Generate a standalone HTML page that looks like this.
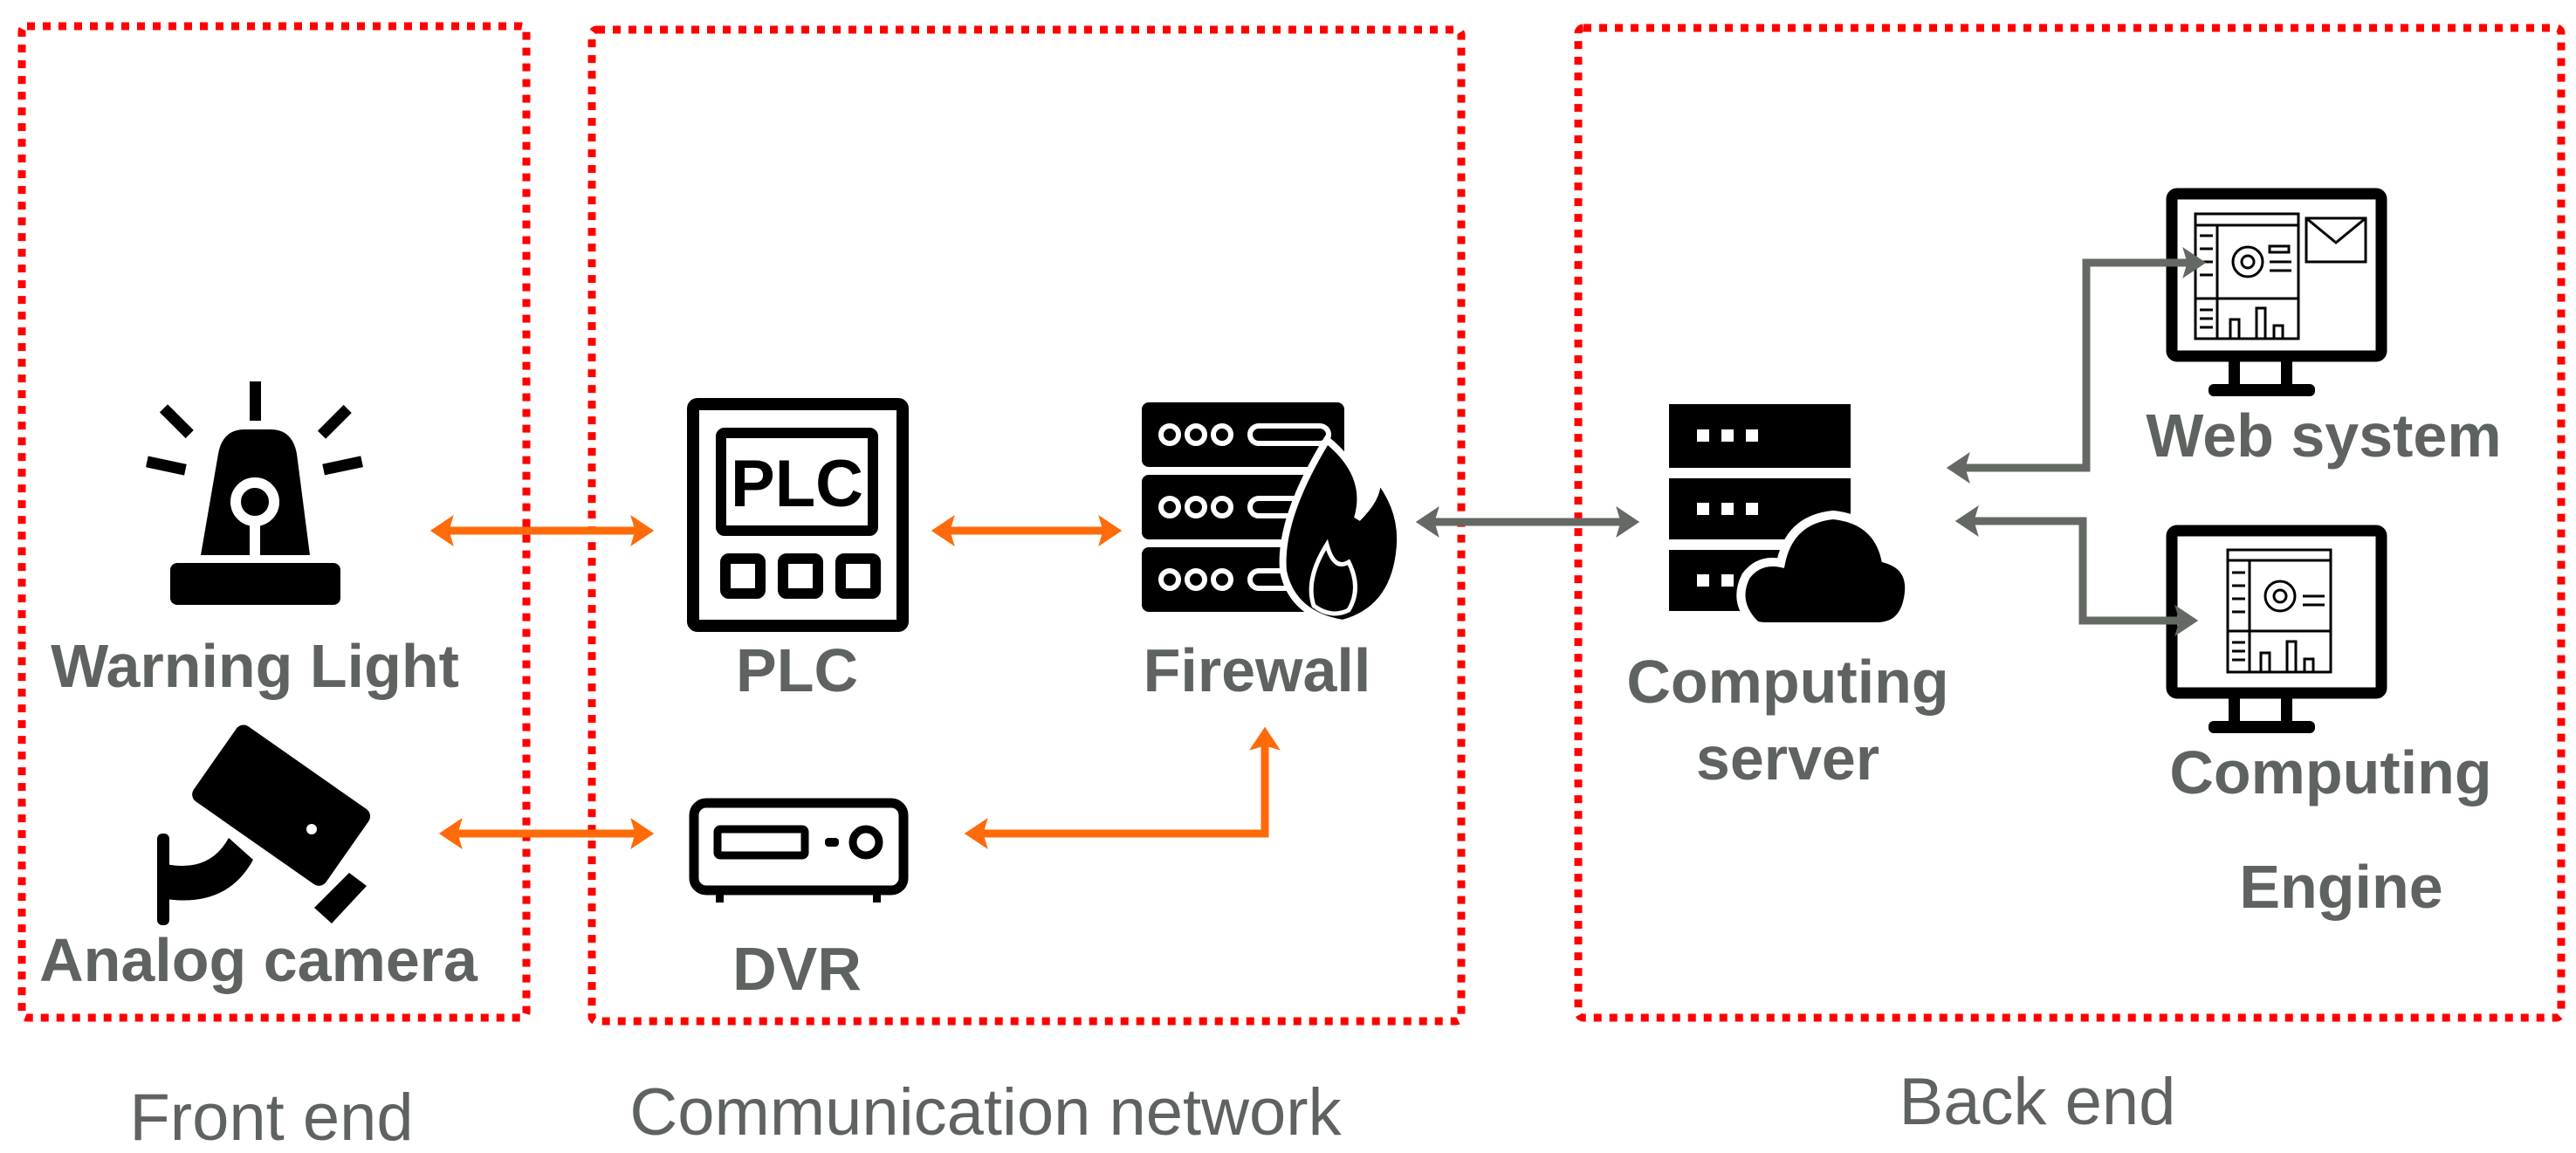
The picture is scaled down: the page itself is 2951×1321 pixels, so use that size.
<!DOCTYPE html>
<html><head><meta charset="utf-8"><style>
html,body{margin:0;padding:0;background:#fff}
svg{display:block}
text{font-family:"Liberation Sans",sans-serif;fill:#5f635f;text-anchor:middle}
.b{font-weight:bold;font-size:70px}
.n{font-size:76px}
</style></head><body>
<svg width="2951" height="1321" viewBox="0 0 2951 1321" xmlns="http://www.w3.org/2000/svg">
<defs>
<marker id="ao" markerWidth="4" markerHeight="4" refX="2.2" refY="2" orient="auto-start-reverse" markerUnits="strokeWidth"><path d="M0,0 L3,2 L0,4 L0.6,2 z" fill="#ff6a0a"/></marker>
<marker id="ag" markerWidth="4" markerHeight="4" refX="2.2" refY="2" orient="auto-start-reverse" markerUnits="strokeWidth"><path d="M0,0 L3,2 L0,4 L0.6,2 z" fill="#646964"/></marker>
</defs>
<g fill="none" stroke="#ff0000" stroke-width="9" stroke-dasharray="9 9">
<rect x="25" y="30" width="578" height="1136" rx="6"/>
<rect x="678" y="34" width="996" height="1136" rx="6"/>
<rect x="1808" y="32" width="1126" height="1134" rx="6"/>
</g>
<!-- warning light -->
<g fill="#000">
<rect x="286" y="437" width="13" height="45"/>
<rect x="196" y="462" width="13" height="42" transform="rotate(-45 202 483)"/>
<rect x="377" y="462" width="13" height="42" transform="rotate(45 383 483)"/>
<rect x="168" y="527" width="45" height="13" transform="rotate(12 190 533)"/>
<rect x="370" y="527" width="45" height="13" transform="rotate(-12 392 533)"/>
<path d="M250 520 Q255 492 280 492 L310 492 Q335 492 340 520 L355 636 L230 636 z"/>
<rect x="195" y="645" width="195" height="48" rx="8"/>
</g>
<circle cx="292" cy="575" r="22" fill="none" stroke="#fff" stroke-width="12"/>
<rect x="286" y="595" width="12" height="41" fill="#fff"/>
<!-- camera -->
<g fill="#000">
<rect x="230" y="870" width="185" height="105" rx="10" transform="rotate(35 322 922)"/>
<rect x="180" y="955" width="14" height="105" rx="6"/>
<path d="M190 990 Q240 1000 262 960 L290 985 Q260 1040 190 1030 z"/>
<path d="M360 1040 L400 1000 L420 1015 L380 1058 z"/>
</g>
<circle cx="357" cy="950" r="6" fill="#fff"/>
<!-- PLC -->
<g transform="translate(0,-60)">
<rect x="794" y="523" width="240" height="254" rx="5" fill="none" stroke="#000" stroke-width="14"/>
<rect x="826" y="556" width="174" height="112" rx="4" fill="none" stroke="#000" stroke-width="12"/>
<text x="913" y="640" style="font-size:76px;font-weight:bold;fill:#000">PLC</text>
<g fill="none" stroke="#000" stroke-width="12"><rect x="831" y="700" width="40" height="40" rx="4"/><rect x="897" y="700" width="40" height="40" rx="4"/><rect x="963" y="700" width="40" height="40" rx="4"/></g>
</g>
<!-- firewall -->
<g transform="translate(0,-56)">
<g fill="#000">
<rect x="1308" y="517" width="232" height="74" rx="8"/>
<rect x="1308" y="600" width="232" height="74" rx="8"/>
<rect x="1308" y="683" width="232" height="74" rx="8"/>
</g>
<g fill="none" stroke="#fff" stroke-width="6">
<circle cx="1340" cy="554" r="10"/><circle cx="1370" cy="554" r="10"/><circle cx="1400" cy="554" r="10"/>
<circle cx="1340" cy="637" r="10"/><circle cx="1370" cy="637" r="10"/><circle cx="1400" cy="637" r="10"/>
<circle cx="1340" cy="720" r="10"/><circle cx="1370" cy="720" r="10"/><circle cx="1400" cy="720" r="10"/>
<rect x="1432" y="544" width="90" height="20" rx="10"/><rect x="1432" y="627" width="90" height="20" rx="10"/><rect x="1432" y="710" width="90" height="20" rx="10"/>
</g>
<path d="M1520 560 Q1570 600 1555 650 Q1585 620 1575 600 Q1610 640 1603 690 Q1595 755 1538 770 Q1480 760 1470 710 Q1465 650 1520 560 z" fill="#000" stroke="#fff" stroke-width="8"/>
<path d="M1520 680 Q1528 710 1545 700 Q1560 730 1545 755 Q1525 765 1505 750 Q1495 720 1520 680 z" fill="none" stroke="#fff" stroke-width="5"/>
</g>
<!-- DVR -->
<rect x="795" y="920" width="240" height="100" rx="14" fill="none" stroke="#000" stroke-width="11"/>
<rect x="822" y="950" width="100" height="30" rx="3" fill="none" stroke="#000" stroke-width="9"/>
<rect x="945" y="960" width="16" height="10" rx="4" fill="#000"/>
<circle cx="992" cy="965" r="15" fill="none" stroke="#000" stroke-width="9"/>
<rect x="820" y="1018" width="9" height="16" fill="#000"/><rect x="1000" y="1018" width="9" height="16" fill="#000"/>
<!-- server -->
<g fill="#000">
<rect x="1912" y="463" width="208" height="73"/>
<rect x="1912" y="548" width="208" height="70"/>
<rect x="1912" y="630" width="208" height="70"/>
</g>
<g fill="#fff">
<rect x="1944" y="492" width="14" height="14"/><rect x="1972" y="492" width="14" height="14"/><rect x="2000" y="492" width="14" height="14"/>
<rect x="1944" y="576" width="14" height="14"/><rect x="1972" y="576" width="14" height="14"/><rect x="2000" y="576" width="14" height="14"/>
<rect x="1944" y="658" width="14" height="14"/><rect x="1972" y="658" width="14" height="14"/><rect x="2000" y="658" width="14" height="14"/>
</g>
<path d="M2010 715 Q1985 690 2000 660 Q2015 640 2040 645 Q2050 595 2100 590 Q2150 595 2160 640 Q2195 650 2185 690 Q2178 718 2150 718 L2025 718 Q2012 718 2010 715 z" fill="#000" stroke="#fff" stroke-width="10"/>
<!-- monitors -->
<rect x="2488" y="222" width="240" height="186" rx="6" fill="none" stroke="#000" stroke-width="13"/>
<rect x="2553" y="408" width="13" height="40" fill="#000"/><rect x="2613" y="408" width="13" height="40" fill="#000"/>
<rect x="2530" y="440" width="122" height="14" rx="6" fill="#000"/>
<g fill="none" stroke="#000" stroke-width="3">
<rect x="2515" y="245" width="118" height="143"/><line x1="2515" y1="258" x2="2633" y2="258"/><line x1="2540" y1="258" x2="2540" y2="388"/><line x1="2515" y1="342" x2="2633" y2="342"/>
<path d="M2520 270h15M2520 285h15M2520 300h15M2520 315h15M2520 355h15M2520 365h15M2520 375h15M2600 300h25M2600 310h25"/>
<circle cx="2575" cy="300" r="17"/><circle cx="2575" cy="300" r="7"/>
<rect x="2600" y="282" width="22" height="7"/><path d="M2555 388 v-22 h10 v22 M2585 388 v-35 h10 v35 M2605 388 v-15 h10 v15"/>
<rect x="2642" y="250" width="68" height="50"/><path d="M2642 250 L2676 278 L2710 250"/>
</g>
<g transform="translate(0,418)">
<rect x="2488" y="190" width="240" height="186" rx="6" fill="none" stroke="#000" stroke-width="13"/>
<rect x="2553" y="376" width="13" height="40" fill="#000"/><rect x="2613" y="376" width="13" height="40" fill="#000"/>
<rect x="2530" y="408" width="122" height="14" rx="6" fill="#000"/>
<g fill="none" stroke="#000" stroke-width="3">
<rect x="2552" y="212" width="118" height="140"/><line x1="2552" y1="224" x2="2670" y2="224"/><line x1="2577" y1="224" x2="2577" y2="352"/><line x1="2552" y1="305" x2="2670" y2="305"/>
<path d="M2557 238h15M2557 253h15M2557 268h15M2557 283h15M2557 318h15M2557 328h15M2557 338h15M2638 265h25M2638 275h25"/>
<circle cx="2612" cy="265" r="17"/><circle cx="2612" cy="265" r="7"/>
<path d="M2590 352 v-22 h10 v22 M2620 352 v-35 h10 v35 M2640 352 v-15 h10 v15"/>
</g>
</g>
<!-- arrows -->
<g fill="none" stroke="#ff6a0a" stroke-width="9">
<line x1="500" y1="608" x2="742" y2="608" marker-start="url(#ao)" marker-end="url(#ao)"/>
<line x1="1074" y1="608" x2="1278" y2="608" marker-start="url(#ao)" marker-end="url(#ao)"/>
<line x1="510" y1="955" x2="742" y2="955" marker-start="url(#ao)" marker-end="url(#ao)"/>
<polyline points="1112,955 1449,955 1449,840" marker-start="url(#ao)" marker-end="url(#ao)"/>
</g>
<g fill="none" stroke="#646964" stroke-width="9">
<line x1="1629" y1="598" x2="1871" y2="598" marker-start="url(#ag)" marker-end="url(#ag)"/>
<polyline points="2237,536 2390,536 2390,301 2520,301" marker-start="url(#ag)" marker-end="url(#ag)"/>
<polyline points="2247,597 2386,597 2386,711 2511,711" marker-start="url(#ag)" marker-end="url(#ag)"/>
</g>
<!-- labels -->
<text class="b" x="292" y="787">Warning Light</text>
<text class="b" x="296" y="1124">Analog camera</text>
<text class="b" x="913" y="792">PLC</text>
<text class="b" x="1440" y="792">Firewall</text>
<text class="b" x="913" y="1134">DVR</text>
<text class="b" x="2048" y="805">Computing</text>
<text class="b" x="2048" y="893">server</text>
<text class="b" x="2662" y="523">Web system</text>
<text class="b" x="2670" y="909">Computing</text>
<text class="b" x="2682" y="1040">Engine</text>
<text class="n" x="311" y="1306">Front end</text>
<text class="n" x="1129" y="1300">Communication network</text>
<text class="n" x="2334" y="1288">Back end</text>
</svg>
</body></html>
